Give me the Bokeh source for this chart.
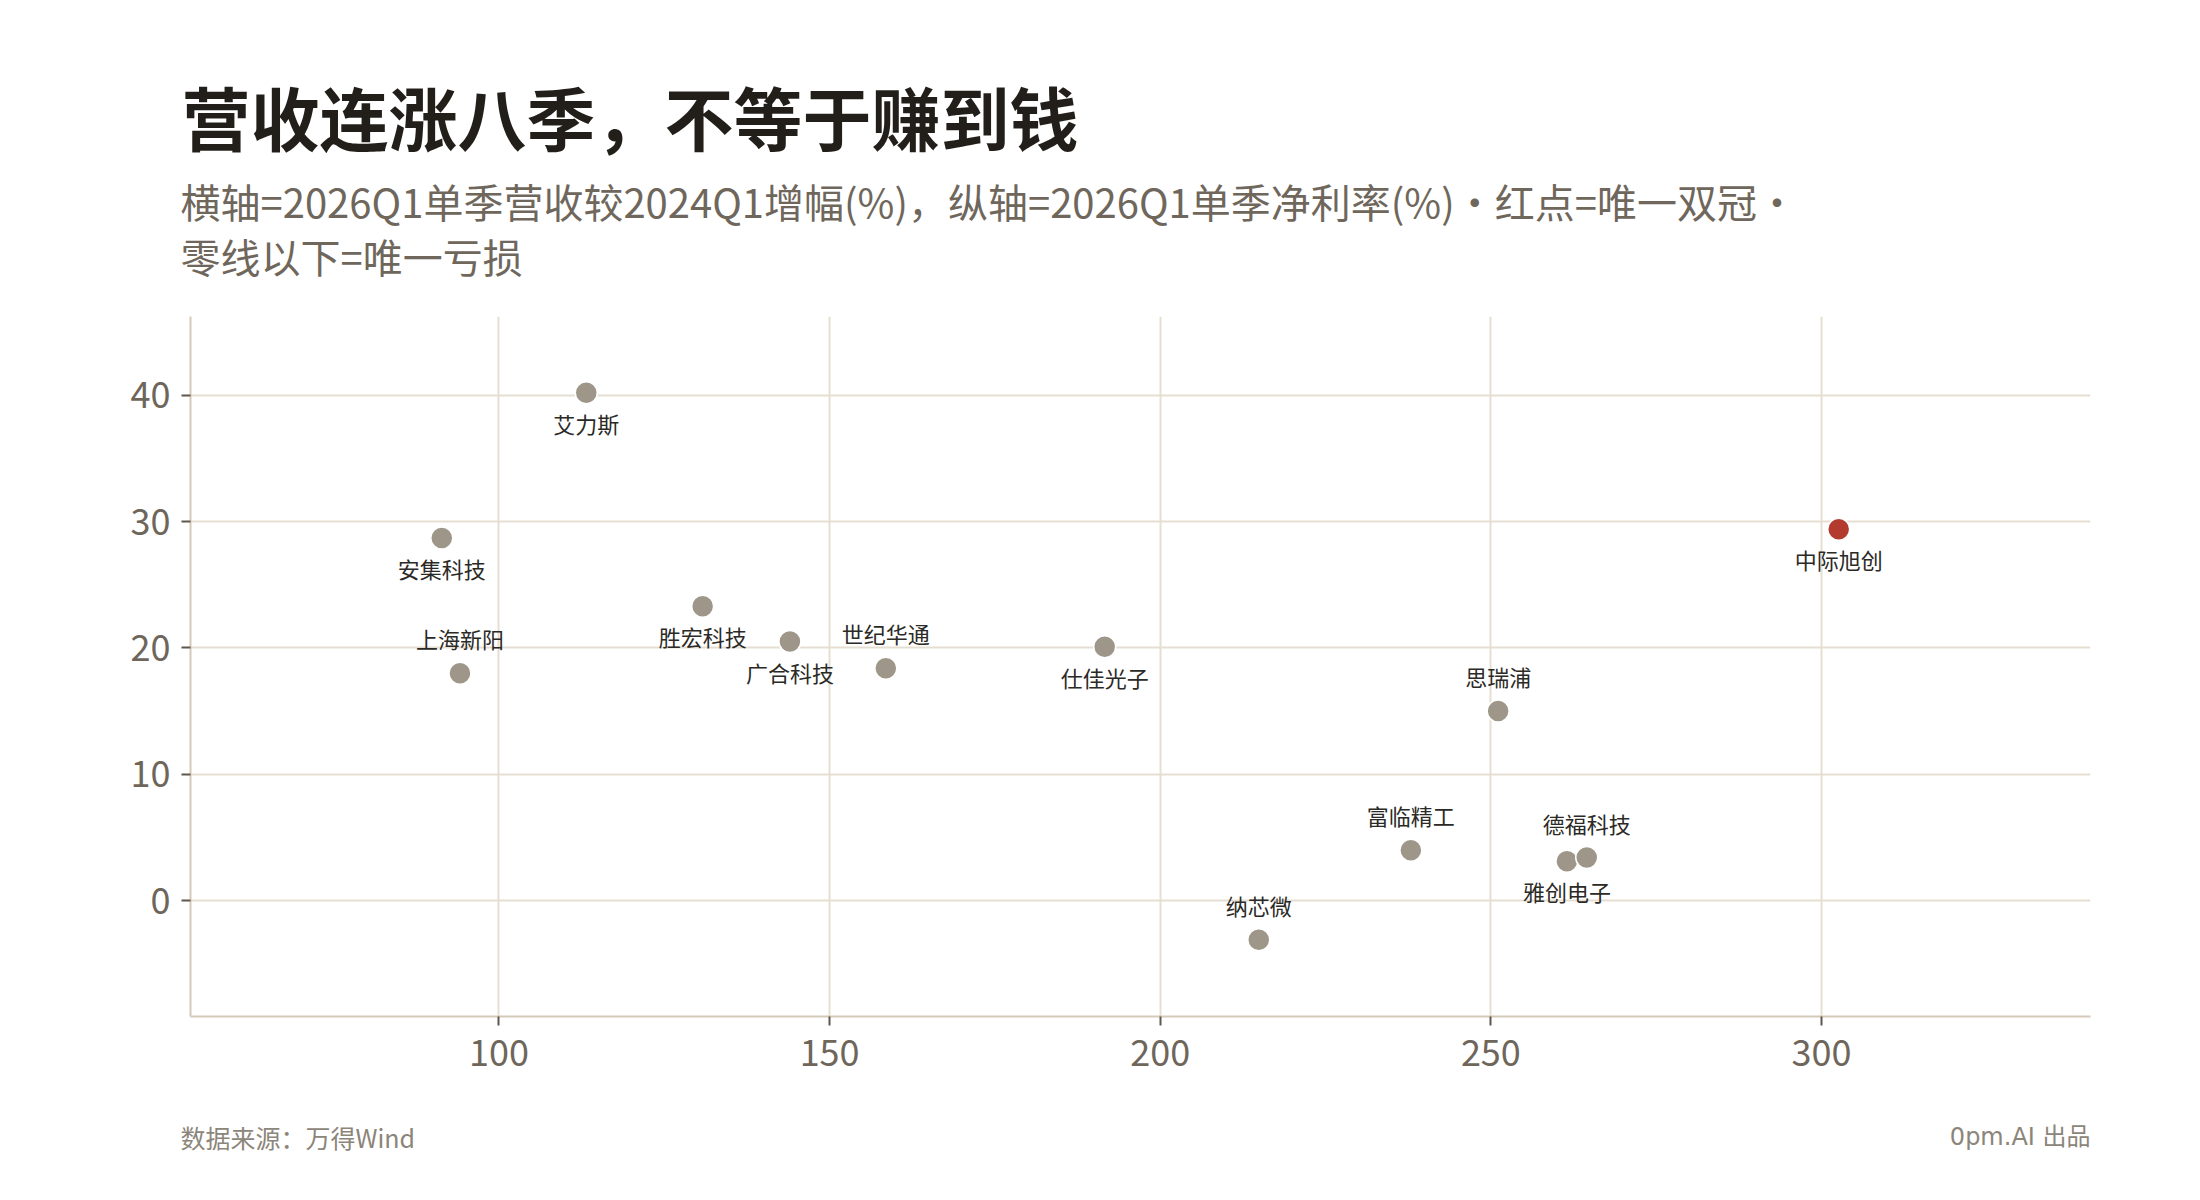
from bokeh.plotting import figure
from bokeh.layouts import column, row
from bokeh.models import ColumnDataSource, FixedTicker, Range1d
from bokeh.embed import file_html
from bokeh.resources import INLINE
from bokeh.core.properties import value

# ---------------- data ----------------
names = ["艾力斯", "安集科技", "上海新阳", "胜宏科技", "广合科技", "世纪华通", "仕佳光子",
         "思瑞浦", "富临精工", "雅创电子", "德福科技", "纳芯微", "中际旭创"]
growth = [113.2, 91.35, 94.1, 130.8, 144.0, 158.5, 191.6,
          251.1, 237.9, 261.5, 264.5, 214.9, 302.6]      # 2026Q1 vs 2024Q1 revenue growth (%)
margin = [40.2, 28.7, 18.0, 23.3, 20.5, 18.4, 20.1,
          15.0, 3.98, 3.11, 3.40, -3.11, 29.4]            # 2026Q1 net margin (%)
highlight = ["中际旭创"]
labels_above = ["上海新阳", "世纪华通", "思瑞浦", "富临精工", "德福科技", "纳芯微"]
x_ticks = [100, 150, 200, 250, 300]
y_ticks = [0, 10, 20, 30, 40]

title_text = "营收连涨八季，不等于赚到钱"
subtitle_lines = ["横轴=2026Q1单季营收较2024Q1增幅(%)，纵轴=2026Q1单季净利率(%)・红点=唯一双冠・",
                  "零线以下=唯一亏损"]
source_text = "数据来源：万得Wind"
credit_text = "0pm.AI 出品"

# ---------------- style ----------------
W = 2184
BL, BR = 190, 94
CJK = "Noto Sans CJK SC"
GRAY_DOT = "#9d9689"
RED_DOT = "#b33a2f"
GRID = "#e6ded2"
AXIS = "#d5cab9"
TICK_TXT = "#6e665b"
HEAD_H, MAIN_H, FOOT_H = 316, 784, 84


def text_panel(height):
    """Axis-less figure covering its whole canvas; x/y in pixels (y down)."""
    f = figure(width=W, height=height,
               x_range=Range1d(0, W), y_range=Range1d(height, 0),
               x_axis_type=None, y_axis_type=None,
               output_backend="svg", toolbar_location=None,
               min_border=0, min_border_left=0, min_border_right=0,
               min_border_top=0, min_border_bottom=0)
    f.title.text = ""
    f.grid.visible = False
    f.outline_line_color = None
    f.background_fill_color = "white"
    f.border_fill_color = "white"
    return f


def put(f, text, x, y, size, color, style="normal", align="left", font=CJK):
    f.text(x=[x], y=[y], text=[text], text_font=value(font), text_font_size=size,
           text_color=color, text_font_style=style, text_align=align,
           text_baseline="alphabetic")


# ---------- header ----------
head = text_panel(HEAD_H)
put(head, title_text, 181, 115, "69px", "#221f1a", style="bold")
put(head, subtitle_lines[0], 180, 200, "40px", "#6f675c")
put(head, subtitle_lines[1], 180, 255, "40px", "#6f675c")

# ---------- main scatter ----------
def src(sel):
    return ColumnDataSource(dict(
        x=[g for g, n in zip(growth, names) if sel(n)],
        y=[m for m, n in zip(margin, names) if sel(n)],
        name=[n for n in names if sel(n)],
    ))

p = figure(width=W, height=MAIN_H,
           x_range=Range1d(53.35, 340.68), y_range=Range1d(-9.18, 46.24),
           output_backend="svg", toolbar_location=None,
           min_border_left=BL, min_border_right=BR,
           min_border_top=0, min_border_bottom=84)
p.title.text = ""
p.background_fill_color = "white"
p.border_fill_color = "white"
p.outline_line_color = None

for ax, ticks, standoff in ((p.xaxis[0], x_ticks, 14), (p.yaxis[0], y_ticks, 11)):
    ax.ticker = FixedTicker(ticks=ticks)
    ax.axis_line_color = AXIS
    ax.axis_line_width = 2
    ax.major_tick_line_color = "#5f574c"
    ax.major_tick_line_width = 2
    ax.major_tick_out = 9
    ax.major_tick_in = 0
    ax.minor_tick_line_color = None
    ax.major_label_text_font = CJK
    ax.major_label_text_font_size = "36px"
    ax.major_label_text_color = TICK_TXT
    ax.major_label_standoff = standoff

p.xgrid.ticker = FixedTicker(ticks=x_ticks)
p.ygrid.ticker = FixedTicker(ticks=y_ticks)
for g in (p.xgrid[0], p.ygrid[0]):
    g.grid_line_color = GRID
    g.grid_line_width = 2

p.scatter("x", "y", source=src(lambda n: n not in highlight), size=22,
          fill_color=GRAY_DOT, line_color="white", line_width=1.5)
p.scatter("x", "y", source=src(lambda n: n in highlight), size=22,
          fill_color=RED_DOT, line_color="white", line_width=1.5)

common = dict(text="name", text_align="center", text_baseline="middle",
              text_font=value(CJK), text_font_size="22px", text_color="#2b2a26")
p.text("x", "y", source=src(lambda n: n not in labels_above), y_offset=30, **common)
p.text("x", "y", source=src(lambda n: n in labels_above), y_offset=-35, **common)

# ---------- footer ----------
foot = text_panel(FOOT_H)
put(foot, source_text, 180, 36, "25px", "#8c857a")
put(foot, credit_text, 2090, 36, "24px", "#8c857a", align="right", font="DejaVu Sans, " + CJK)

layout = column(row(head), row(p), row(foot), spacing=0)
open("out.html", "w").write(file_html(layout, INLINE))
